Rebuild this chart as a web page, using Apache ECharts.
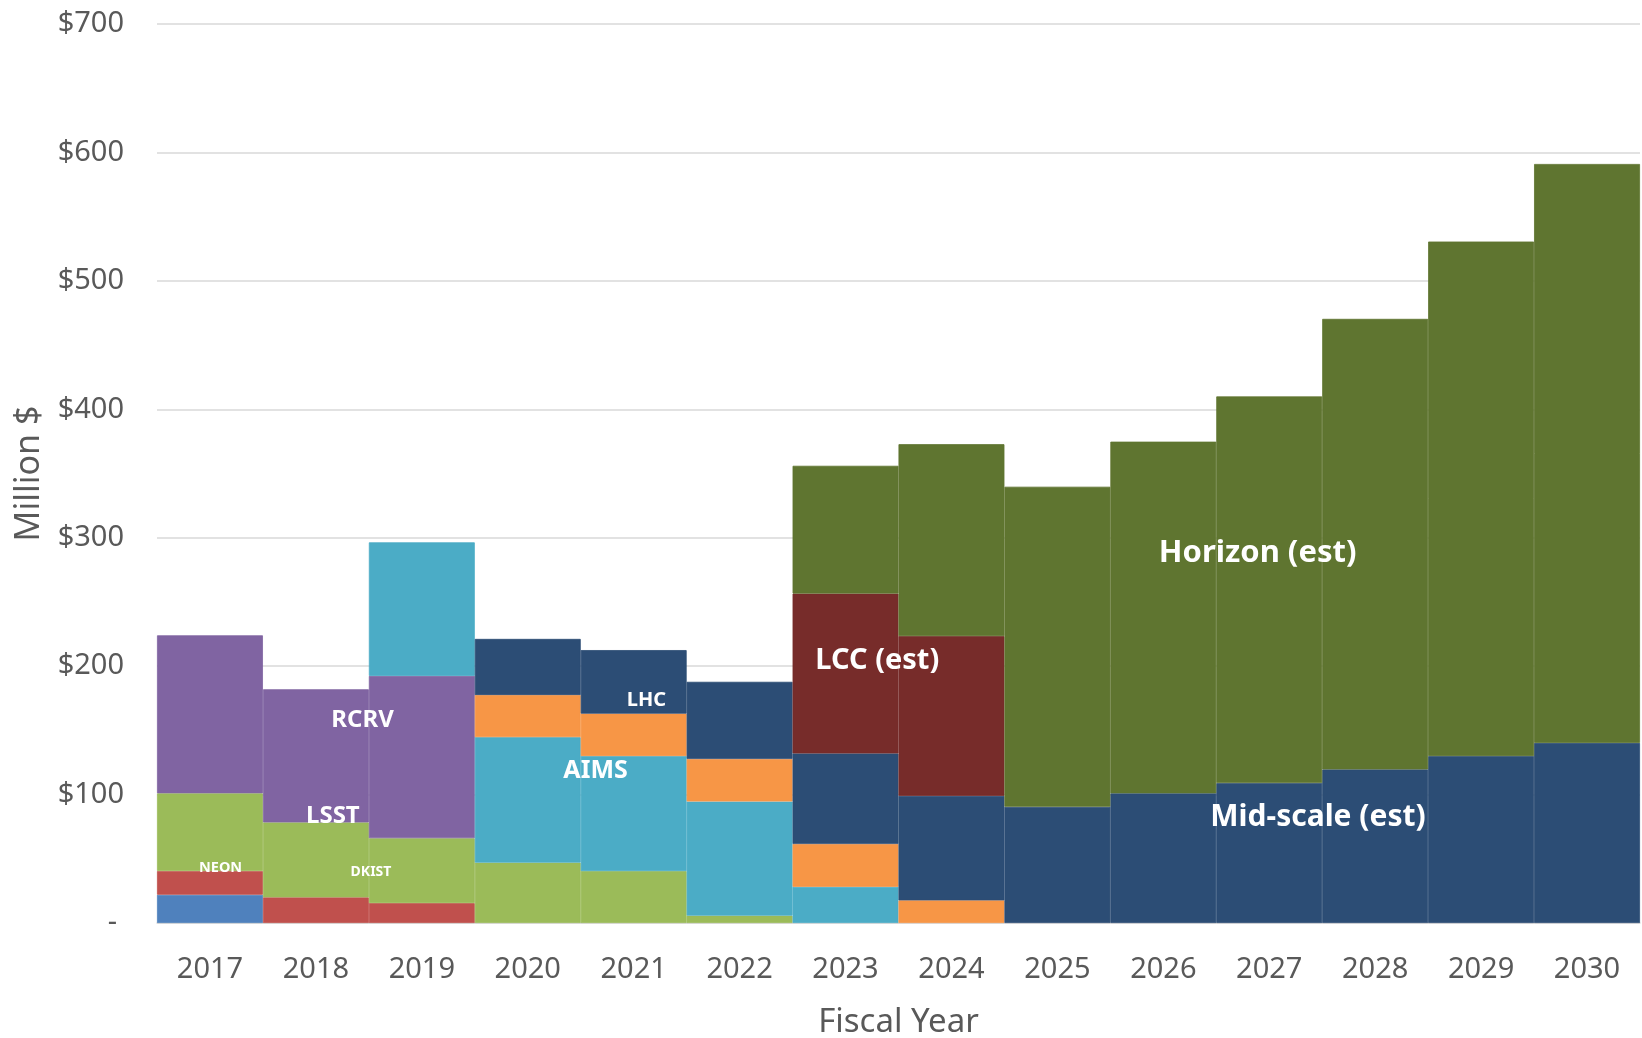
<!DOCTYPE html>
<html>
<head>
<meta charset="utf-8">
<title>Facility construction funding by fiscal year</title>
<script src="https://cdn.jsdelivr.net/npm/echarts@6/dist/echarts.min.js"></script>
<style>
  html, body { margin: 0; padding: 0; background: #fff; }
  #chart { width: 1642px; height: 1038px; }
</style>
</head>
<body>
<div id="chart"></div>
<script>
// fiscal years on the x axis
const years = ['2017', '2018', '2019', '2020', '2021', '2022', '2023', '2024', '2025', '2026', '2027', '2028', '2029', '2030']

// stacked amounts, million $, bottom to top
const seriesBlue = [22, null, null, null, null, null, null, null, null, null, null, null, null, null]
const seriesRed = [18.5, 20, 15.5, null, null, null, null, null, null, null, null, null, null, null]
const seriesGreen = [60.5, 58.3, 50.5, 47, 40.4, 5.7, null, null, null, null, null, null, null, null]
const seriesPurple = [123, 103.7, 126.4, null, null, null, null, null, null, null, null, null, null, null]
const seriesAqua = [null, null, 104, 97.7, 89.6, 88.9, 28.2, null, null, null, null, null, null, null]
const seriesOrange = [null, null, null, 32.8, 33, 33.1, 33.3, 17.6, null, null, null, null, null, null]
const seriesNavy = [null, null, null, 43.7, 49.5, 60.1, 70.5, 81.4, 90.5, 101, 109, 119.6, 130, 140.2]
const seriesLCC = [null, null, null, null, null, null, 124.5, 124.4, null, null, null, null, null, null]
const seriesHorizon = [null, null, null, null, null, null, 99.5, 149.4, 249.2, 273.8, 301, 350.8, 400.6, 450.8]

// y axis ticks
const yTicks = [0, 100, 200, 300, 400, 500, 600, 700]

// text written over the areas, [year index, million $]
const areaLabels = ['NEON', 'DKIST', 'LSST', 'RCRV', 'AIMS', 'LHC', 'LCC (est)', 'Horizon (est)', 'Mid-scale (est)']
const areaLabelAt = [[0.10, 43.3], [1.52, 39.4], [1.16, 83], [1.44, 158], [3.64, 118.8], [4.12, 173.5], [6.30, 204.5], [9.89, 287.6], [10.46, 82]]
const areaLabelSize = [14.5, 14, 24, 24, 25, 20, 29, 31, 30]

const font = "'Noto Sans', 'Open Sans', sans-serif"
const gray = '#595959'

const chart = echarts.init(document.getElementById('chart'))

function bar(name, data, color) {
  return {
    name: name,
    type: 'bar',
    stack: 'total',
    barCategoryGap: '0%',
    data: data,
    // border in the fill colour hides the seams between touching bars
    itemStyle: { color: color, borderColor: color, borderWidth: 0.8 },
    emphasis: { disabled: true }
  }
}

chart.setOption({
  animation: false,
  textStyle: { fontFamily: font },
  grid: {
    left: 157,
    right: 2,
    top: 24,
    bottom: 115,
    containLabel: false,
    outerBoundsMode: 'none'
  },
  xAxis: [{
    type: 'category',
    data: years,
    name: 'Fiscal Year',
    nameLocation: 'middle',
    nameGap: 83,
    nameTextStyle: { fontSize: 33, color: gray, fontFamily: font },
    axisLine: { show: true, lineStyle: { color: '#d9d9d9', width: 1.5 } },
    axisTick: { show: false },
    axisLabel: { fontSize: 29, color: gray, margin: 32, fontFamily: font }
  }, {
    type: 'value',
    min: -0.5,
    max: 13.5,
    show: false
  }],
  yAxis: {
    type: 'value',
    min: yTicks[0],
    max: yTicks[yTicks.length - 1],
    interval: 100,
    name: 'Million $',
    nameLocation: 'middle',
    nameGap: 110,
    nameTextStyle: { fontSize: 34, color: gray, fontFamily: font },
    axisLine: { show: false },
    axisTick: { show: false },
    splitLine: { lineStyle: { color: '#d9d9d9', width: 1.5 } },
    axisLabel: {
      fontSize: 29,
      color: gray,
      margin: 33,
      fontFamily: font,
      formatter: v => v === 0 ? '{z|-}' : '$' + v,
      rich: { z: { fontSize: 29, color: gray, padding: [0, 7, 0, 0] } }
    }
  },
  series: [
    bar('Early', seriesBlue, '#4f81bd'),
    bar('NEON', seriesRed, '#c0504d'),
    bar('LSST / DKIST', seriesGreen, '#9bbb59'),
    bar('RCRV', seriesPurple, '#8064a2'),
    bar('AIMS', seriesAqua, '#4bacc6'),
    bar('Other', seriesOrange, '#f79646'),
    bar('LHC / Mid-scale (est)', seriesNavy, '#2c4d75'),
    bar('LCC (est)', seriesLCC, '#772c2a'),
    bar('Horizon (est)', seriesHorizon, '#5f7530'),
    {
      type: 'scatter',
      xAxisIndex: 1,
      yAxisIndex: 0,
      symbolSize: 0,
      silent: true,
      z: 10,
      itemStyle: { opacity: 1 },
      data: areaLabels.map((t, i) => ({
        name: t,
        value: areaLabelAt[i],
        label: { fontSize: areaLabelSize[i] }
      })),
      label: {
        show: true,
        position: 'inside',
        formatter: p => p.name,
        color: '#ffffff',
        fontWeight: 'bold',
        fontFamily: font
      }
    }
  ]
})
</script>
</body>
</html>
